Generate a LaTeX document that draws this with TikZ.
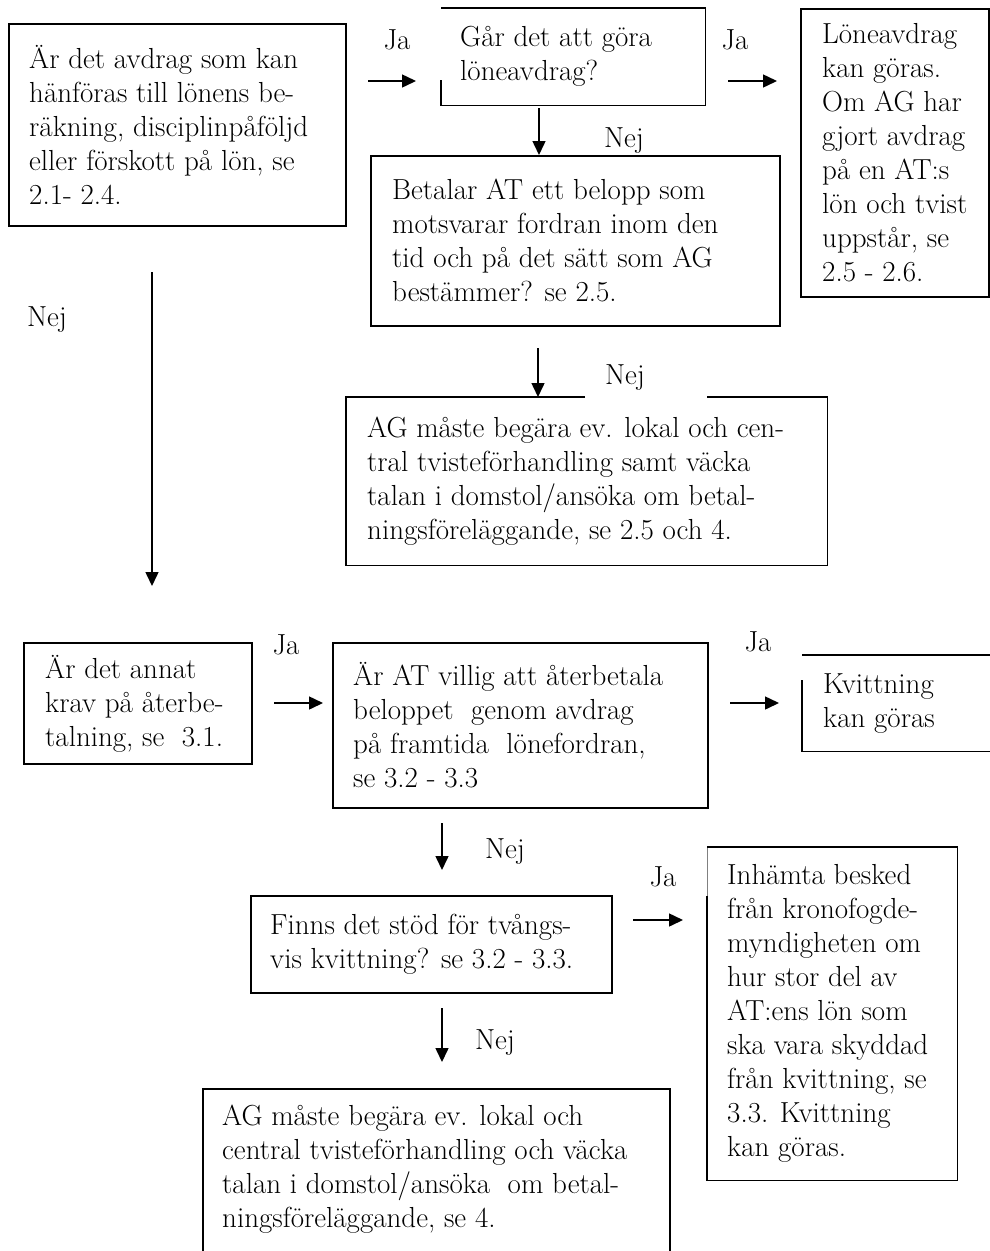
\documentclass[tikz,border=0pt]{standalone}
\usetikzlibrary{arrows.meta}
\begin{document}
\begin{tikzpicture}[x=1pt,y=-1pt]
\tikzset{
  boxframe/.style={rectangle, draw=black, line width=1.7pt, inner sep=0pt, anchor=north west},
  openframe/.style={rectangle, draw=none, inner sep=0pt, anchor=north west},
  edgeline/.style={line width=1.7pt, line join=miter},
  txt/.style={align=left, inner sep=0pt, anchor=west, font=\fontsize{29}{34}\selectfont},
  lbl/.style={inner sep=0pt, font=\fontsize{29}{34}\selectfont},
  arr/.style={line width=1.5pt, -{Triangle[length=14pt,width=13pt]}},
}
\useasboundingbox (0,0) rectangle (990,1251);
\clip (0,0) rectangle (990,1251);

% ---------- boxes ----------
\node[boxframe, minimum width=337pt, minimum height=202pt] (b1) at (8,23) {};
\node[txt] (t1) at ([xshift=21pt]b1.west) {Är det avdrag som kan\\hänföras till lönens be-\\räkning, disciplinpåföljd\\eller förskott på lön, se\\2.1- 2.4.};

\node[openframe, minimum width=264pt, minimum height=97pt] (b2) at (441,8) {};
\draw[edgeline] ([yshift=-72pt]b2.north west) -- (b2.south west) -- (b2.south east) -- (b2.north east) -- (b2.north west);
\node[txt] (t2) at ([xshift=19pt]b2.west) {Går det att göra\\löneavdrag?};

\node[boxframe, minimum width=409pt, minimum height=170pt] (b3) at (370,155) {};
\node[txt] (t3) at ([xshift=22pt]b3.west) {Betalar AT ett belopp som\\motsvarar fordran inom den\\tid och på det sätt som AG\\bestämmer? se 2.5.};

\node[boxframe, minimum width=188pt, minimum height=288pt] (b4) at (800,8) {};
\node[txt] (t4) at ([xshift=22pt]b4.west) {Löneavdrag\\kan göras.\\Om AG har\\gjort avdrag\\på en AT:s\\lön och tvist\\uppstår, se\\2.5 - 2.6.};

\node[openframe, minimum width=481pt, minimum height=168pt] (b5) at (346,397) {};
\coordinate (g1) at (585,397);
\coordinate (g2) at (707,397);
\draw[edgeline] (g1) -- (b5.north west) -- (b5.south west) -- (b5.south east) -- (b5.north east) -- (g2);
\node[txt] (t5) at ([xshift=21pt]b5.west) {AG måste begära ev. lokal och cen-\\tral tvisteförhandling samt väcka\\talan i domstol/ansöka om betal-\\ningsföreläggande, se 2.5 och 4.};

\node[boxframe, minimum width=228pt, minimum height=121pt] (b6) at (23,642) {};
\node[txt] (t6) at ([xshift=22pt]b6.west) {Är det annat\\krav på återbe-\\talning, se\ \ 3.1.};

\node[boxframe, minimum width=375pt, minimum height=165pt] (b7) at (332,642) {};
\node[txt] (t7) at ([xshift=21pt]b7.west) {Är AT villig att återbetala\\beloppet\ \ genom avdrag\\på framtida\ \ lönefordran,\\se 3.2 - 3.3};

\node[openframe, minimum width=200pt, minimum height=96pt] (b8) at (802,655) {};
\draw[edgeline] ([yshift=-25pt]b8.north west) -- (b8.south west) -- (b8.south east);
\draw[edgeline] (b8.north west) -- (b8.north east);
\node[txt] (t8) at ([xshift=21pt]b8.west) {Kvittning\\kan göras};

\node[boxframe, minimum width=361pt, minimum height=97pt] (b9) at (250,895) {};
\node[txt] (t9) at ([xshift=20pt]b9.west) {Finns det stöd för tvångs-\\vis kvittning? se 3.2 - 3.3.};

\node[openframe, minimum width=250pt, minimum height=333pt] (b10) at (707,847) {};
\draw[line width=0.6pt, gray] (b10.north west) -- ([yshift=-49pt]b10.north west);
\draw[edgeline] ([yshift=-49pt]b10.north west) -- (b10.south west) -- (b10.south east) -- (b10.north east) -- (b10.north west);
\node[txt] (t10) at ([xshift=20pt]b10.west) {Inhämta besked\\från kronofogde-\\myndigheten om\\hur stor del av\\AT:ens lön som\\ska vara skyddad\\från kvittning, se\\3.3. Kvittning\\kan göras.};

\node[boxframe, minimum width=467pt, minimum height=180pt] (b11) at (202,1088) {};
\node[txt] (t11) at ([xshift=20pt,yshift=10pt]b11.west) {AG måste begära ev. lokal och\\central tvisteförhandling och väcka\\talan i domstol/ansöka\ \ om betal-\\ningsföreläggande, se 4.};

% ---------- labels ----------
\node[lbl] (ja1) at (397,40) {Ja};
\node[lbl] (ja2) at (735,40) {Ja};
\node[lbl] (nej1) at (624,141) {Nej};
\node[lbl] (nej2) at (625,378) {Nej};
\node[lbl] (nej0) at (47,320) {Nej};
\node[lbl] (ja3) at (286,645) {Ja};
\node[lbl] (ja4) at (758,642) {Ja};
\node[lbl] (nej3) at (505,852) {Nej};
\node[lbl] (ja5) at (663,877) {Ja};
\node[lbl] (nej4) at (495,1043) {Nej};

% ---------- connectors ----------
\coordinate (a1s) at (368,81);  \coordinate (a1e) at (416,81);
\coordinate (a2s) at (728,81);  \coordinate (a2e) at (777,81);
\coordinate (a3s) at (539,108);
\coordinate (a4s) at (538,348);
\coordinate (a5s) at (152,272); \coordinate (a5e) at (152,586);
\coordinate (a6s) at (274,703); \coordinate (a6e) at (323,703);
\coordinate (a7s) at (730,703); \coordinate (a7e) at (779,703);
\coordinate (a8s) at (442,823); \coordinate (a8e) at (442,870);
\coordinate (a9s) at (633,920); \coordinate (a9e) at (683,920);
\coordinate (a10s) at (442,1008); \coordinate (a10e) at (442,1062);

\draw[arr] (a1s) -- (a1e);
\draw[arr] (a2s) -- (a2e);
\draw[arr] (a3s) -- (a3s |- b3.north);
\draw[arr] (a4s) -- (a4s |- b5.north);
\draw[arr] (a5s) -- (a5e);
\draw[arr] (a6s) -- (a6e);
\draw[arr] (a7s) -- (a7e);
\draw[arr] (a8s) -- (a8e);
\draw[arr] (a9s) -- (a9e);
\draw[arr] (a10s) -- (a10e);
\end{tikzpicture}
\end{document}
